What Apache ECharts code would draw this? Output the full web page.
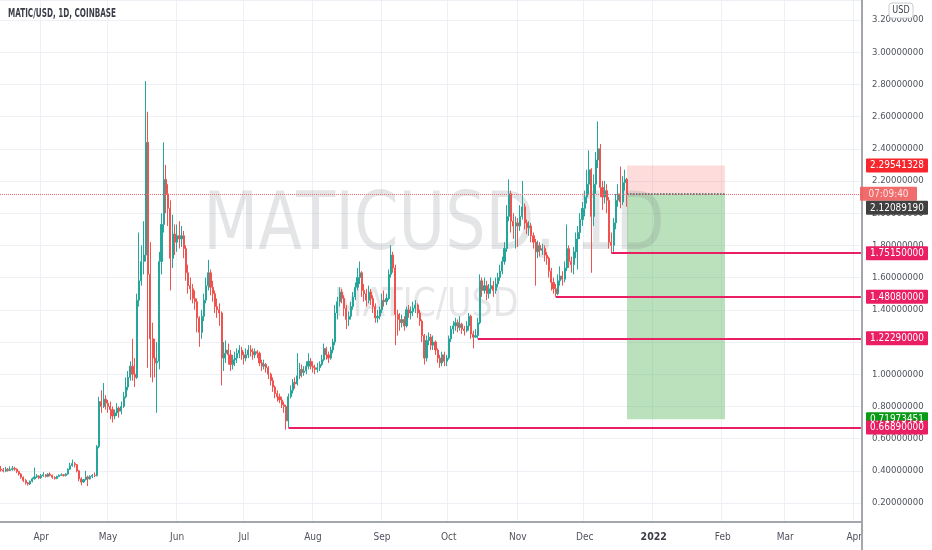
<!DOCTYPE html>
<html><head><meta charset="utf-8">
<script src="https://cdn.jsdelivr.net/npm/echarts@6/dist/echarts.min.js"></script>
<style>html,body{margin:0;padding:0;background:#fff}#c{width:932px;height:550px}</style>
</head><body><div id="c"></div>
<script>
// ---------- data ----------
const startDate = '2021-03-14';
const endDate = '2022-04-04';
const firstOpen = 0.41;
const closes = [
0.405,0.398,0.41,0.402,0.408,0.415,0.41,0.395,0.38,0.36,0.34,0.325,0.318,0.335,0.35,0.362,0.368,0.356,
0.37,0.375,0.365,0.38,0.372,0.36,0.352,0.365,0.372,0.375,0.37,0.38,0.41,0.432,0.445,0.438,0.40,0.35,0.33,0.345,0.362,0.35,0.366,0.372,0.37,
0.55,0.83,0.80,0.845,0.82,0.80,0.78,0.74,0.76,0.79,0.77,0.80,0.86,0.92,0.98,1.05,1.00,0.98,1.46,1.58,1.70,
1.74,2.44,1.62,1.22,1.10,1.07,1.08,1.70,1.93,2.21,2.12,2.03,1.72,1.87,1.82,
1.86,1.84,1.86,1.78,1.63,1.55,1.53,1.47,1.45,1.35,1.26,1.36,1.46,1.55,1.63,1.54,1.50,1.42,1.40,1.38,1.10,1.13,1.15,1.12,1.06,1.09,1.10,1.13,1.15,1.12,
1.10,1.12,1.15,1.14,1.12,1.14,1.13,1.07,1.05,1.06,1.04,1.00,0.96,0.92,0.88,0.86,0.84,0.81,0.80,0.71,0.86,0.90,0.95,0.94,0.99,1.03,1.01,1.02,1.05,1.08,1.05,
1.04,1.03,1.04,1.06,1.09,1.16,1.12,1.10,1.15,1.20,1.38,1.45,1.51,1.47,1.41,1.34,1.36,1.42,1.48,1.54,1.60,1.63,1.52,1.50,1.46,1.51,1.47,1.42,1.35,1.36,1.40,
1.46,1.45,1.47,1.62,1.74,1.66,1.37,1.34,1.32,1.34,1.30,1.40,1.38,1.39,1.41,1.43,1.38,1.33,1.24,1.10,1.21,1.23,1.18,1.20,1.15,1.10,1.07,1.12,1.08,1.10,
1.22,1.28,1.30,1.32,1.29,1.31,1.28,1.27,1.30,1.36,1.25,1.23,1.24,1.32,1.58,1.52,1.55,1.50,1.53,1.55,1.52,1.56,1.60,1.64,1.70,1.78,1.98,2.12,1.95,1.92,1.94,
1.92,1.98,2.04,1.94,1.91,1.92,1.86,1.82,1.76,1.80,1.77,1.78,1.74,1.72,1.64,1.57,1.53,1.50,1.58,1.61,1.59,1.66,1.78,1.70,1.68,1.76,1.84,1.88,1.96,2.03,
2.10,2.18,2.27,1.98,2.18,2.33,2.40,2.16,2.10,2.14,2.08,1.82,1.80,1.94,2.08,2.12,2.07,2.19,2.21,2.1208919
];
const highs = [
0.43,0.418,0.425,0.418,0.428,0.43,0.425,0.415,0.40,0.385,0.365,0.35,0.33,0.34,0.358,0.42,0.38,0.372,
0.38,0.392,0.38,0.385,0.39,0.376,0.365,0.37,0.378,0.385,0.38,0.385,0.415,0.45,0.47,0.455,0.442,0.405,0.36,0.35,0.40,0.37,0.372,0.38,0.39,
0.56,0.86,0.90,0.945,0.87,0.84,0.83,0.80,0.78,0.82,0.80,0.83,0.89,0.98,1.02,1.08,1.22,1.10,1.50,1.88,1.80,
1.95,2.82,2.63,1.82,1.32,1.22,1.20,1.76,2.00,2.44,2.30,2.18,2.08,1.99,1.93,
1.93,1.95,1.92,1.89,1.80,1.68,1.60,1.56,1.52,1.47,1.36,1.40,1.50,1.60,1.71,1.65,1.58,1.52,1.47,1.44,1.39,1.20,1.21,1.19,1.15,1.12,1.14,1.16,1.18,1.17,
1.14,1.16,1.18,1.18,1.16,1.16,1.15,1.14,1.09,1.09,1.07,1.05,1.01,0.98,0.93,0.90,0.88,0.86,0.83,0.81,0.88,0.93,0.97,0.98,1.13,1.07,1.06,1.05,1.08,1.13,1.10,
1.08,1.06,1.07,1.08,1.12,1.19,1.17,1.14,1.17,1.22,1.43,1.48,1.54,1.53,1.49,1.43,1.39,1.45,1.51,1.57,1.66,1.70,1.64,1.56,1.53,1.55,1.53,1.49,1.44,1.40,1.42,
1.50,1.52,1.50,1.65,1.80,1.76,1.68,1.40,1.38,1.37,1.36,1.42,1.43,1.42,1.45,1.46,1.44,1.40,1.34,1.25,1.24,1.26,1.25,1.24,1.21,1.16,1.12,1.14,1.14,1.12,
1.24,1.30,1.33,1.35,1.34,1.36,1.32,1.30,1.33,1.38,1.37,1.27,1.28,1.35,1.62,1.60,1.60,1.58,1.56,1.60,1.58,1.60,1.63,1.68,1.73,1.82,2.05,2.21,2.14,2.00,1.98,
1.97,2.05,2.20,2.06,1.96,1.95,1.94,1.88,1.84,1.83,1.82,1.81,1.80,1.76,1.73,1.66,1.60,1.56,1.62,1.67,1.64,1.70,1.93,1.80,1.73,1.79,1.88,1.92,2.00,2.07,
2.14,2.27,2.39,2.28,2.24,2.38,2.57,2.43,2.20,2.20,2.18,2.10,1.88,1.97,2.12,2.18,2.29,2.23,2.27,2.22
];
const lows = [
0.395,0.39,0.392,0.395,0.398,0.40,0.40,0.385,0.37,0.35,0.33,0.315,0.308,0.312,0.328,0.345,0.355,0.348,
0.35,0.362,0.358,0.36,0.365,0.35,0.345,0.348,0.36,0.368,0.365,0.366,0.376,0.405,0.425,0.42,0.39,0.335,0.31,0.325,0.34,0.305,0.345,0.355,0.36,
0.365,0.54,0.76,0.79,0.78,0.76,0.72,0.70,0.72,0.74,0.73,0.75,0.79,0.85,0.90,0.96,0.96,0.92,0.97,1.42,1.55,
1.62,1.70,1.04,0.98,0.95,0.98,0.76,1.03,1.62,1.88,2.00,1.92,1.52,1.66,1.74,
1.76,1.78,1.79,1.72,1.58,1.50,1.46,1.44,1.40,1.26,1.17,1.22,1.33,1.44,1.52,1.49,1.45,1.38,1.35,1.30,0.93,1.02,1.07,1.06,1.02,1.03,1.05,1.07,1.10,1.09,
1.06,1.08,1.10,1.11,1.09,1.10,1.10,1.05,1.02,1.03,1.01,0.97,0.93,0.89,0.85,0.83,0.82,0.79,0.76,0.655,0.6689,0.85,0.88,0.91,0.93,0.97,0.98,0.99,1.00,1.03,1.03,
1.01,1.00,1.01,1.02,1.05,1.08,1.09,1.07,1.09,1.13,1.18,1.34,1.42,1.44,1.36,1.28,1.30,1.34,1.40,1.46,1.52,1.56,1.48,1.45,1.42,1.44,1.43,1.38,1.32,1.32,1.34,
1.38,1.42,1.43,1.46,1.60,1.63,1.18,1.24,1.27,1.29,1.27,1.29,1.35,1.34,1.36,1.38,1.35,1.30,1.20,1.06,1.08,1.18,1.15,1.15,1.12,1.07,1.04,1.05,1.05,1.05,
1.09,1.20,1.25,1.27,1.26,1.27,1.25,1.24,1.26,1.27,1.22,1.16,1.23,1.2229,1.31,1.48,1.50,1.46,1.47,1.50,1.48,1.50,1.54,1.58,1.62,1.68,1.76,1.95,1.88,1.84,1.78,
1.79,1.89,1.96,1.90,1.87,1.86,1.82,1.78,1.55,1.72,1.73,1.74,1.70,1.68,1.60,1.52,1.50,1.4808,1.49,1.55,1.55,1.57,1.64,1.66,1.63,1.62,1.72,1.65,1.84,1.92,
1.98,2.06,2.12,1.63,1.92,2.12,2.28,2.10,2.02,2.06,2.00,1.78,1.7515,1.76,1.90,2.04,2.03,2.05,2.14,2.04
];
const supportLevels = [1.7515, 1.4808, 1.2229, 0.6689];
const supportStarts = ['2021-12-13', '2021-11-18', '2021-10-14', '2021-07-21'];
const lastPrice = 2.1208919;
const stopPrice = 2.29541328;
const targetPrice = 0.71973451;
const positionStart = '2021-12-20';
const positionEnd = '2022-02-02';
const countdownText = '07:09:40';
const titleText = 'MATIC/USD, 1D, COINBASE';
const watermarkMain = 'MATICUSD, 1D';
const watermarkSub = 'MATIC/USD';
const monthNames = ['Jan','Feb','Mar','Apr','May','Jun','Jul','Aug','Sep','Oct','Nov','Dec'];

// ---------- build ----------
const F = '"DejaVu Sans Condensed","Liberation Sans",sans-serif';
const cats = [];
(function () {
  let t = Date.parse(startDate + 'T00:00:00Z');
  const e = Date.parse(endDate + 'T00:00:00Z');
  while (t <= e) { cats.push(new Date(t).toISOString().slice(0, 10)); t += 86400000; }
})();
const candles = closes.map((c, i) => [i === 0 ? firstOpen : closes[i - 1], c, lows[i], highs[i]]);
const isMonthStart = (v) => v.slice(8) === '01';
const lastCat = cats[cats.length - 1];

const chart = echarts.init(document.getElementById('c'));
chart.setOption({
  animation: false,
  backgroundColor: '#ffffff',
  grid: { left: 0, right: 70, top: 0, bottom: 28, containLabel: false, outerBoundsMode: 'none' },
  xAxis: {
    type: 'category', data: cats, boundaryGap: true,
    axisLine: { show: true, lineStyle: { color: '#a3a6ad', width: 2 } },
    axisTick: { show: false },
    axisLabel: {
      interval: (i, v) => isMonthStart(v),
      formatter: (v) => {
        const m = +v.slice(5, 7);
        return m === 1 ? '{b|' + v.slice(0, 4) + '}' : monthNames[m - 1];
      },
      color: '#50535e', fontSize: 10, fontFamily: F, margin: 10,
      rich: { b: { fontWeight: 'bold', color: '#3a3d46', fontSize: 10.5, fontFamily: F } }
    },
    splitLine: { show: true, interval: (i, v) => isMonthStart(v), lineStyle: { color: '#eef0f5', width: 1 } }
  },
  yAxis: {
    type: 'value', position: 'right', min: 0.082, max: 3.324, splitNumber: 16,
    axisLine: { show: true, lineStyle: { color: '#a3a6ad', width: 2 } },
    axisTick: { show: false },
    axisLabel: { formatter: (v) => v.toFixed(8), color: '#50535e', fontSize: 9.5, fontFamily: F, margin: 10, showMinLabel: false, showMaxLabel: false },
    splitLine: { show: true, lineStyle: { color: '#eef0f5', width: 1 } }
  },
  series: [{
    type: 'candlestick',
    data: candles,
    barWidth: 1.6,
    itemStyle: { color: '#26a69a', color0: '#ef5350', borderColor: '#26a69a', borderColor0: '#ef5350', borderWidth: 1 },
    markArea: {
      silent: true,
      data: [
        [{ coord: [positionStart, lastPrice], itemStyle: { color: 'rgba(255,82,82,0.2)' } }, { coord: [positionEnd, stopPrice] }],
        [{ coord: [positionStart, targetPrice], itemStyle: { color: 'rgba(76,175,80,0.38)' } }, { coord: [positionEnd, lastPrice] }]
      ]
    },
    markLine: {
      silent: true, symbol: 'none', label: { show: false },
      data: [
        { yAxis: lastPrice, lineStyle: { color: '#f36b74', type: 'dotted', width: 1 } },
        [{ coord: [positionStart, lastPrice], lineStyle: { color: '#5d606b', type: 'dotted', width: 1.5 } }, { coord: [positionEnd, lastPrice] }]
      ].concat(supportLevels.map((v, k) => [
        { coord: [supportStarts[k], v], lineStyle: { color: '#e91e63', type: 'solid', width: 2 } },
        { coord: [lastCat, v] }
      ]))
    }
  }]
});

// ---------- price tags, watermark, title ----------
const yPix = (v) => chart.convertToPixel({ yAxisIndex: 0 }, v);
const tagSpecs = [
  { value: stopPrice, text: stopPrice.toFixed(8), bg: '#f7252c', fg: '#ffffff' },
  { value: lastPrice, text: countdownText, bg: 'rgba(240,96,96,0.92)', fg: '#ffe6e6', left: 860, width: 57 },
  { value: lastPrice, shift: 14, text: lastPrice.toFixed(8), bg: '#404040', fg: '#ffffff' },
  { value: targetPrice, text: targetPrice.toFixed(8), bg: '#0a9b16', fg: '#ffffff' }
].concat(supportLevels.map(v => ({ value: v, text: v.toFixed(8), bg: '#e91e63', fg: '#ffffff' })));

const g = [
  { type: 'text', z: 1, silent: true, x: 434, y: 228, scaleX: 0.885,
    style: { text: watermarkMain, font: '80px ' + F, fill: 'rgba(120,123,134,0.2)', align: 'center', verticalAlign: 'middle' } },
  { type: 'text', z: 1, silent: true, x: 426, y: 306, scaleX: 0.95,
    style: { text: watermarkSub, font: '39px ' + F, fill: 'rgba(120,123,134,0.18)', align: 'center', verticalAlign: 'middle' } },
  { type: 'text', z: 100, x: 8, y: 14, scaleX: 0.7,
    style: { text: titleText, font: 'bold 11.5px ' + F, fill: '#3b3e48', align: 'left', verticalAlign: 'middle' } },
  { type: 'line', z: 100, shape: { x1: 862, y1: 522, x2: 862, y2: 550 }, style: { stroke: '#a3a6ad', lineWidth: 2 } },
  { type: 'rect', z: 100, shape: { x: 889, y: 3, width: 24, height: 15, r: 3 }, style: { fill: '#ffffff', stroke: '#c9ccd3', lineWidth: 1 } },
  { type: 'text', z: 101, x: 901, y: 10.5, scaleX: 0.9, style: { text: 'USD', font: '10px ' + F, fill: '#3b3e48', align: 'center', verticalAlign: 'middle' } }
];
tagSpecs.forEach((t) => {
  const cy = yPix(t.value) + (t.shift || 0);
  const left = t.left || 866, w = t.width || 62, h = 14;
  g.push({ type: 'rect', z: 110, shape: { x: left, y: cy - h / 2, width: w, height: h, r: 1 }, style: { fill: t.bg } });
  g.push({ type: 'text', z: 111, x: left + w / 2, y: cy, scaleX: 0.9,
    style: { text: t.text, font: '11px ' + F, fill: t.fg, align: 'center', verticalAlign: 'middle' } });
});
chart.setOption({ graphic: g });
</script>
</body></html>
